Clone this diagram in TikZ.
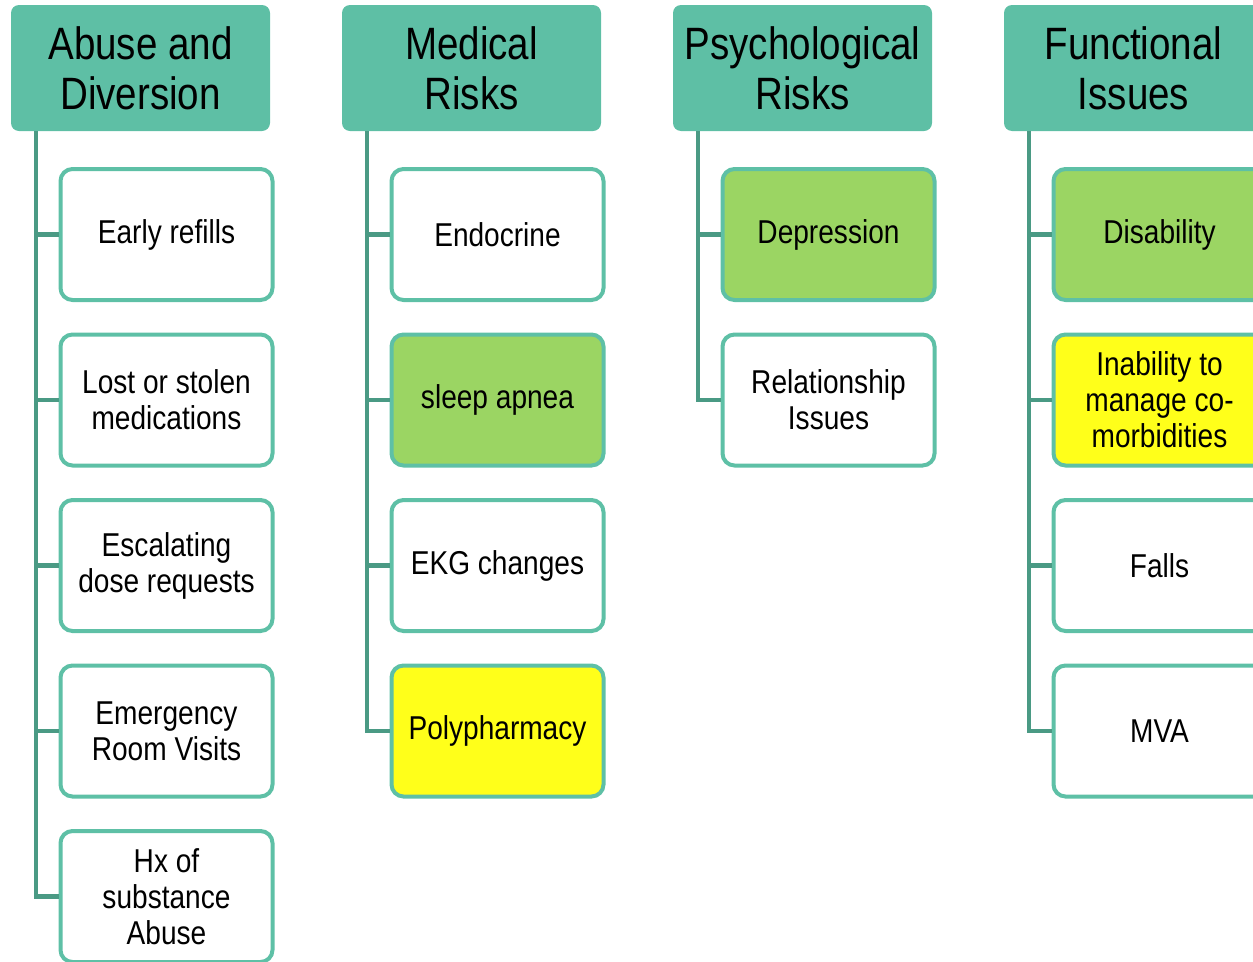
\documentclass[tikz,border=0pt]{standalone}
\usepackage{fontspec}
\setmainfont[FakeStretch=0.85]{Liberation Sans}
\usetikzlibrary{positioning}
\definecolor{hdrteal}{RGB}{94,191,165}
\definecolor{edgeteal}{RGB}{94,192,166}
\definecolor{linkteal}{RGB}{74,154,132}
\definecolor{riskgreen}{RGB}{155,213,99}
\definecolor{riskyellow}{RGB}{255,255,26}

\begin{document}
\begin{tikzpicture}[
  head/.style={fill=hdrteal, rounded corners=0.16cm, align=center, minimum width=5.18cm, minimum height=2.52cm, inner sep=0pt, outer sep=0pt, font=\fontsize{25.8}{28.4}\selectfont},
  item/.style={draw=edgeteal, line width=0.08cm, fill=white, rounded corners=0.24cm, align=center, minimum width=4.24cm, minimum height=2.62cm, inner sep=0pt, font=\fontsize{18.8}{20.5}\selectfont},
  green/.style={fill=riskgreen},
  yellow/.style={fill=riskyellow},
  link/.style={draw=linkteal, line width=0.085cm},
  node distance=0.61cm and 1.44cm
]
\useasboundingbox (0,0) rectangle (25.06,-19.22);
\node[head] (h1) at (2.81,-1.36) {Abuse and\\Diversion};
\node[head, right=of h1] (h2) {Medical\\Risks};
\node[head, right=of h2] (h3) {Psychological\\Risks};
\node[head, right=of h3] (h4) {Functional\\Issues};
% abuse and diversion
\node[item, below right=0.72cm and 0.95cm of h1.south west] (a1) {Early refills};
\node[item, below=of a1] (a2) {Lost or stolen\\medications};
\node[item, below=of a2] (a3) {Escalating\\dose requests};
\node[item, below=of a3] (a4) {Emergency\\Room Visits};
\node[item, below=of a4] (a5) {Hx of\\substance\\Abuse};
% medical risks
\node[item, below right=0.72cm and 0.95cm of h2.south west] (m1) {Endocrine};
\node[item, green, below=of m1] (m2) {sleep apnea};
\node[item, below=of m2] (m3) {EKG changes};
\node[item, yellow, below=of m3] (m4) {Polypharmacy};
% psychological risks
\node[item, green, below right=0.72cm and 0.95cm of h3.south west] (p1) {Depression};
\node[item, below=of p1] (p2) {Relationship\\Issues};
% functional issues
\node[item, green, below right=0.72cm and 0.95cm of h4.south west] (f1) {Disability};
\node[item, yellow, below=of f1] (f2) {Inability to\\manage co-\\morbidities};
\node[item, below=of f2] (f3) {Falls};
\node[item, below=of f3] (f4) {MVA};
% connectors
\foreach \c in {a1,a2,a3,a4,a5}
  \draw[link] ([xshift=0.5cm]h1.south west) |- (\c.west);
\foreach \c in {m1,m2,m3,m4}
  \draw[link] ([xshift=0.5cm]h2.south west) |- (\c.west);
\foreach \c in {p1,p2}
  \draw[link] ([xshift=0.5cm]h3.south west) |- (\c.west);
\foreach \c in {f1,f2,f3,f4}
  \draw[link] ([xshift=0.5cm]h4.south west) |- (\c.west);
\end{tikzpicture}
\end{document}
